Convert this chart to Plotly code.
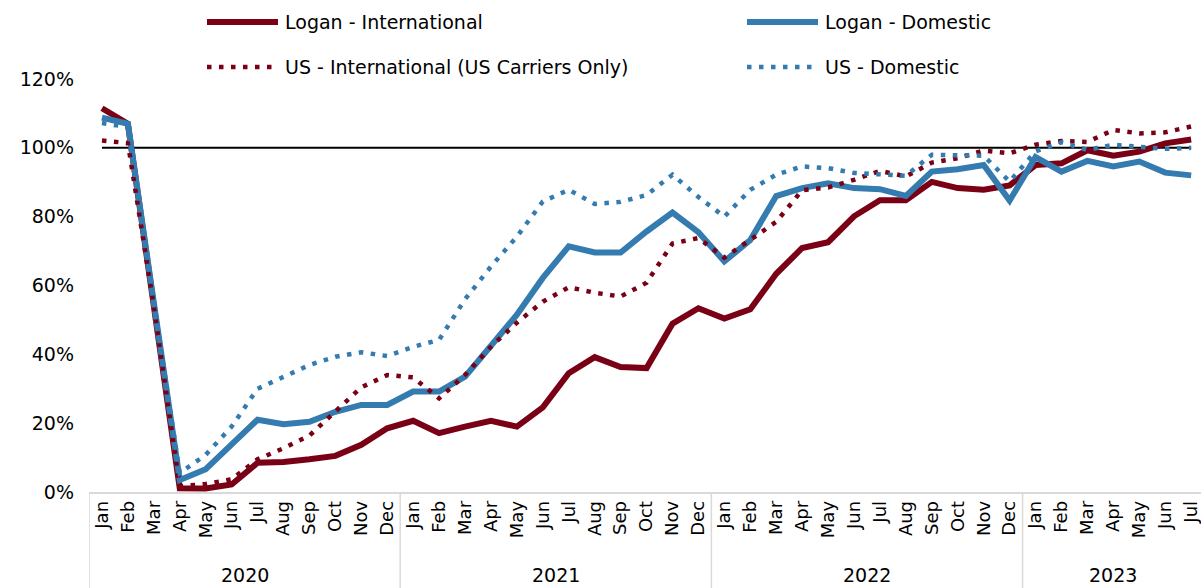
import plotly.graph_objects as go

months = (["Jan", "Feb", "Mar", "Apr", "May", "Jun", "Jul", "Aug", "Sep", "Oct", "Nov", "Dec"] * 3
          + ["Jan", "Feb", "Mar", "Apr", "May", "Jun", "Jul"])
years = ["2020", "2021", "2022", "2023"]
year_month_counts = [12, 12, 12, 7]

logan_intl = [111.5, 107, 54, 1.1, 1, 2.2, 8.5, 8.7, 9.5, 10.5, 13.7, 18.5,
              20.7, 17.1, 19, 20.7, 19, 24.6, 34.5, 39.2, 36.3, 36, 48.9, 53.4,
              50.4, 53.1, 63.4, 70.9, 72.6, 80.1, 84.8, 84.8, 90.1, 88.3, 87.8, 89.1,
              95, 95.5, 99.3, 97.7, 98.9, 101.3, 102.4]
logan_dom = [108.8, 107, 55, 3.5, 6.6, 13.7, 21, 19.7, 20.4, 23.3, 25.3, 25.3,
             29.2, 29.2, 33.5, 42.5, 51.5, 62.2, 71.4, 69.6, 69.6, 75.7, 81.2, 75.5,
             67, 73.2, 86, 88.3, 89.7, 88.3, 88, 86, 93.1, 93.8, 95, 84.7,
             97.3, 93.1, 96.2, 94.6, 96, 92.8, 92]
us_intl = [102.1, 101.4, 54, 1.7, 2.3, 3.7, 9.5, 12.7, 16.4, 23.3, 30.4, 34,
           33.3, 27.2, 34, 42.2, 49.2, 55.3, 59.5, 57.9, 56.8, 60.8, 72.2, 73.8,
           68.1, 73.3, 78.5, 87.7, 88.5, 90.7, 93.3, 91.7, 95.7, 97, 99.2, 98.4,
           100.9, 102, 101.7, 105.2, 104.2, 104.5, 106.2]
us_dom = [107.2, 106, 55, 5.5, 10.8, 19, 30, 33.5, 36.9, 39.3, 40.6, 39.5,
          42.2, 44.2, 56, 65.5, 74.2, 84.4, 87.8, 83.7, 84.3, 86.3, 92.2, 85.7,
          80, 87.8, 92.2, 94.6, 94.1, 92.7, 92.2, 91.9, 98, 97.7, 97.7, 90.2,
          99, 101.6, 99.4, 100.9, 100.4, 99.7, 100]
baseline = [100] * len(months)

names = ["Logan - International", "Logan - Domestic",
         "US - International (US Carriers Only)", "US - Domestic"]
RED = "#7A0016"
BLUE = "#347BB0"
FONT = "DejaVu Sans"
DOT = "4.5px,7.5px"

x = list(range(len(months)))

fig = go.Figure()
fig.add_trace(go.Scatter(x=x, y=baseline, mode="lines", line=dict(color="black", width=2),
                         showlegend=False, hoverinfo="skip"))
series = [
    (logan_intl, names[0], RED, None, 6),
    (logan_dom, names[1], BLUE, None, 6),
    (us_intl, names[2], RED, DOT, 4.5),
    (us_dom, names[3], BLUE, DOT, 4.5),
]
for ys, nm, col, dash, w in series:
    fig.add_trace(go.Scatter(x=x, y=ys, name=nm, mode="lines",
                             line=dict(color=col, width=w, dash=dash),
                             showlegend=False))

shapes = []
annotations = []
start = 0
plot_h = 588 - 79 - 96
bottom = -96 / plot_h
for yr, cnt in zip(years, year_month_counts):
    shapes.append(dict(type="line", xref="x", yref="paper", x0=start - 0.5, x1=start - 0.5,
                       y0=0, y1=bottom, line=dict(color="#D9D9D9", width=1.5)))
    annotations.append(dict(x=start + (cnt - 1) / 2, y=(492 - 575) / plot_h, xref="x", yref="paper",
                            text=yr, showarrow=False, font=dict(size=19, color="black", family=FONT),
                            xanchor="center", yanchor="middle"))
    start += cnt

W = 1201 - 89
def px(xp):
    return (xp - 89) / W
def py(yp):
    return (492 - yp) / plot_h
leg = [
    (names[0], RED, "solid", 6, 207, 278, 22, 283),
    (names[1], BLUE, "solid", 6, 747, 818, 22, 823),
    (names[2], RED, DOT, 4.5, 207, 275, 67, 283),
    (names[3], BLUE, DOT, 4.5, 747, 815, 67, 823),
]
for nm, col, dash, w, x0, x1, yy, tx in leg:
    shapes.append(dict(type="line", xref="paper", yref="paper", x0=px(x0), x1=px(x1),
                       y0=py(yy), y1=py(yy), line=dict(color=col, width=w, dash=dash)))
    annotations.append(dict(x=px(tx), y=py(yy), xref="paper", yref="paper", text=nm,
                            showarrow=False, xanchor="left", yanchor="middle",
                            font=dict(size=19, color="black", family=FONT)))

fig.update_layout(
    width=1201, height=588,
    margin=dict(l=89, r=0, t=79, b=96),
    paper_bgcolor="white", plot_bgcolor="white",
    showlegend=False,
    font=dict(family=FONT, size=19, color="black"),
    shapes=shapes, annotations=annotations,
    xaxis=dict(range=[-0.5, 42.38], tickmode="array", tickvals=x, ticktext=months,
               tickangle=-90, showgrid=False, zeroline=False, showline=True,
               linecolor="#D9D9D9", linewidth=1.5, ticks="", automargin=False,
               ticklabeloverflow="allow", tickfont=dict(size=18, family=FONT)),
    yaxis=dict(range=[0, 120], tickvals=[0, 20, 40, 60, 80, 100, 120],
               ticktext=["0%", "20%", "40%", "60%", "80%", "100%", "120%"],
               showgrid=False, zeroline=False, showline=False, ticks="",
               automargin=False, ticklabelstandoff=14, tickfont=dict(size=19, family=FONT)),
    hovermode=False,
)

fig.write_html("out.html", config={"displayModeBar": False},
               post_script="document.body.style.margin='0';document.body.style.overflow='hidden';")
